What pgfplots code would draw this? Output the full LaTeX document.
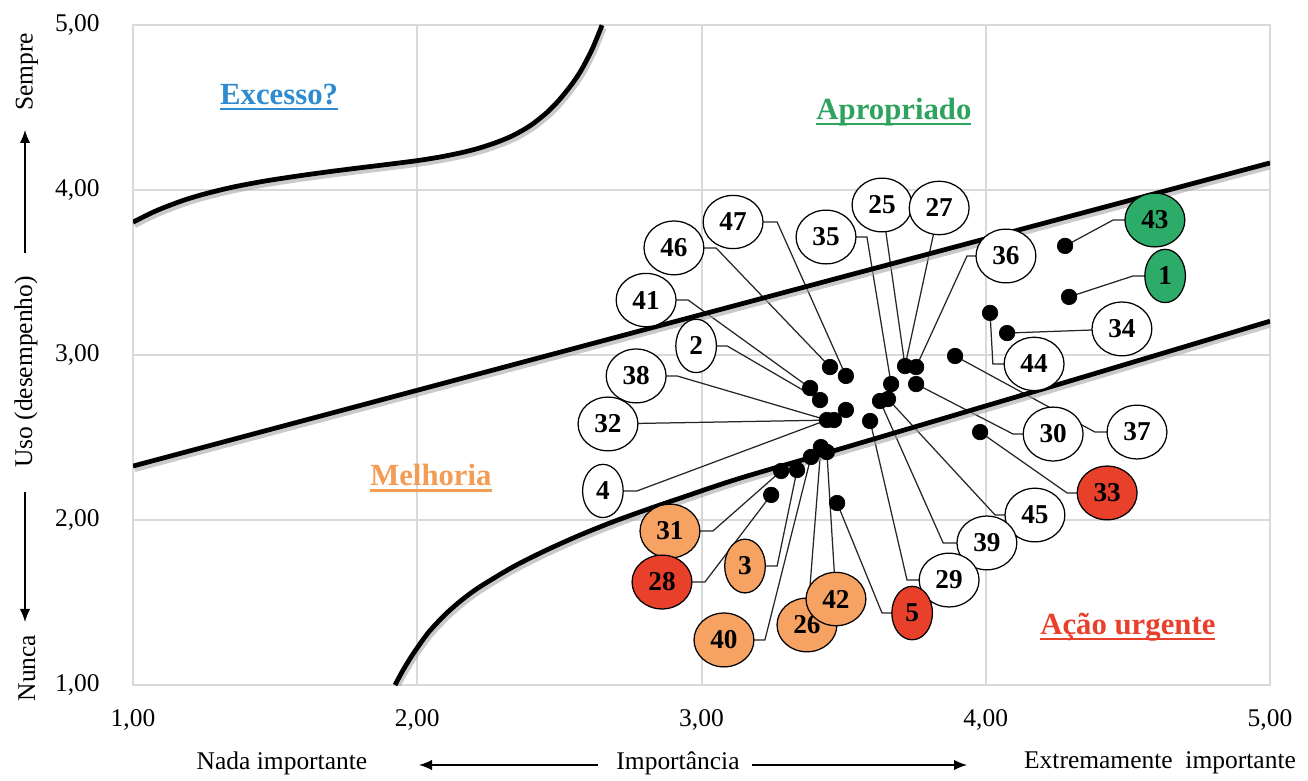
\documentclass[border=0pt]{standalone}
\usepackage{fontspec}
\setmainfont{Liberation Serif}
\usepackage{pgfplots}
\usepackage{pgfplotstable}
\pgfplotsset{compat=1.18}
\usetikzlibrary{shapes.geometric, arrows.meta}
\definecolor{gridgray}{HTML}{D9D9D9}
\definecolor{cblue}{HTML}{2E8BCF}
\definecolor{cgreen}{HTML}{2CAB69}
\definecolor{corange}{HTML}{F5A263}
\definecolor{cred}{HTML}{E8402B}
\definecolor{tgreen}{HTML}{2EA35F}
\definecolor{torange}{HTML}{F39C55}
\newsavebox{\ulbox}
\newcommand{\ul}[1]{\sbox{\ulbox}{#1}\rlap{\rule[-3.4pt]{\wd\ulbox}{1.4pt}}\usebox{\ulbox}}
\newcommand{\fnt}{\fontsize{14.5pt}{17pt}\selectfont}
\newcommand{\qfnt}{\bfseries\fontsize{17.5pt}{20pt}\selectfont}

\pgfplotstableread{
x y label
4.173 2.030 45
4.004 1.861 39
3.871 1.636 29
3.111 3.806 47
2.903 3.649 46
2.805 3.333 41
2.981 3.055 2
2.770 2.873 38
2.671 2.582 32
2.653 2.176 4
3.438 3.715 35
3.635 3.909 25
3.836 3.891 27
4.071 3.600 36
4.479 3.158 34
4.170 2.946 44
4.237 2.521 30
4.532 2.533 37
}\whitelabels

\pgfplotstableread{
x y label
2.889 1.933 31
3.153 1.721 3
3.079 1.273 40
3.371 1.364 26
3.473 1.521 42
}\orangelabels

\pgfplotstableread{
x y label
2.861 1.624 28
4.427 2.164 33
3.741 1.436 5
}\redlabels

\pgfplotstableread{
x y label
4.595 3.818 43
4.631 3.479 1
}\greenlabels

\pgfplotstableread{
x y
3.452 2.927
3.508 2.873
3.382 2.800
3.417 2.727
3.508 2.667
3.441 2.606
3.466 2.606
3.593 2.600
3.667 2.824
3.628 2.721
3.656 2.733
3.716 2.933
3.755 2.927
3.755 2.824
3.420 2.442
3.441 2.412
3.385 2.382
3.280 2.297
3.336 2.303
3.245 2.152
3.477 2.103
3.892 2.994
4.015 3.255
4.075 3.133
4.279 3.661
4.293 3.352
3.980 2.533
}\dotdata

\pgfplotstableread{
x y
1.000 3.805
1.080 3.873
1.170 3.933
1.250 3.975
1.350 4.017
1.460 4.053
1.580 4.085
1.690 4.111
1.800 4.135
1.900 4.156
2.000 4.178
2.080 4.200
2.160 4.228
2.220 4.255
2.281 4.290
2.340 4.333
2.400 4.393
2.455 4.468
2.500 4.547
2.548 4.651
2.580 4.736
2.617 4.860
2.650 4.999
}\uppercurve

\pgfplotstableread{
x y
1.922 1.000
1.950 1.090
1.986 1.190
2.040 1.320
2.103 1.435
2.160 1.520
2.221 1.596
2.338 1.717
2.455 1.818
2.573 1.909
2.690 1.990
2.807 2.063
2.924 2.132
3.135 2.253
3.500 2.437
4.250 2.819
5.000 3.205
}\lowercurve

\pgfplotsset{
  leader/.style={black!85, line width=0.25mm, mark=none},
  bub/.style={draw=none, mark=none, nodes near coords, point meta=explicit symbolic,
    every node near coord/.append style={ellipse, draw=black, line width=0.25mm, fill=#1,
      inner xsep=1.51mm, inner ysep=1.97mm, anchor=center,
      font=\bfseries\fontsize{15.5pt}{18pt}\selectfont, text=black}},
  thick curve/.style={smooth, black, line width=0.95mm, mark=none},
  shadow curve/.style={smooth, black!35, opacity=0.6, line width=1.2mm, mark=none, xshift=0.3mm, yshift=-0.6mm},
}

\begin{document}
\begin{tikzpicture}
\begin{axis}[
  scale only axis, width=227.4mm, height=132mm,
  xmin=1, xmax=5, ymin=1, ymax=5,
  xtick={1,2,3,4,5}, ytick={1,2,3,4,5},
  grid=major, grid style={color=gridgray, line width=0.4mm},
  axis line style={draw=gridgray, line width=0.4mm},
  major tick length=0pt,
  tick label style={font=\fnt, text=black},
  /pgf/number format/.cd, fixed, fixed zerofill, precision=2, use comma, assume math mode=true,
  /pgfplots/.cd,
  yticklabel style={anchor=east, inner sep=0pt, xshift=-6.6mm},
  xticklabel style={anchor=north, inner sep=0pt, yshift=-4.9mm},
]
% leader lines
\addplot[leader] coordinates {(3.111,3.806) (3.266,3.806) (3.508,2.873)};
\addplot[leader] coordinates {(2.903,3.649) (3.051,3.649) (3.452,2.927)};
\addplot[leader] coordinates {(2.805,3.333) (2.953,3.333) (3.382,2.800)};
\addplot[leader] coordinates {(2.981,3.055) (3.090,3.055) (3.417,2.727)};
\addplot[leader] coordinates {(2.770,2.873) (2.914,2.873) (3.441,2.606)};
\addplot[leader] coordinates {(2.671,2.582) (3.466,2.606)};
\addplot[leader] coordinates {(2.653,2.176) (2.773,2.176) (3.441,2.606)};
\addplot[leader] coordinates {(3.438,3.715) (3.582,3.715) (3.667,2.824)};
\addplot[leader] coordinates {(3.635,3.909) (3.716,2.933)};
\addplot[leader] coordinates {(3.836,3.891) (3.716,2.933)};
\addplot[leader] coordinates {(4.071,3.600) (3.934,3.600) (3.755,2.927)};
\addplot[leader] coordinates {(4.595,3.818) (4.448,3.818) (4.279,3.661)};
\addplot[leader] coordinates {(4.631,3.479) (4.518,3.479) (4.293,3.352)};
\addplot[leader] coordinates {(4.479,3.158) (4.075,3.133)};
\addplot[leader] coordinates {(4.170,2.946) (4.025,2.946) (4.015,3.255)};
\addplot[leader] coordinates {(4.237,2.521) (4.096,2.521) (3.755,2.824)};
\addplot[leader] coordinates {(4.532,2.533) (4.384,2.533) (3.892,2.994)};
\addplot[leader] coordinates {(4.427,2.164) (4.286,2.164) (3.980,2.533)};
\addplot[leader] coordinates {(4.173,2.030) (4.033,2.030) (3.656,2.733)};
\addplot[leader] coordinates {(4.004,1.861) (3.850,1.861) (3.628,2.721)};
\addplot[leader] coordinates {(3.871,1.636) (3.723,1.636) (3.593,2.600)};
\addplot[leader] coordinates {(3.741,1.436) (3.635,1.436) (3.477,2.103)};
\addplot[leader] coordinates {(3.473,1.521) (3.441,2.412)};
\addplot[leader] coordinates {(3.371,1.364) (3.420,2.442)};
\addplot[leader] coordinates {(3.079,1.273) (3.223,1.273) (3.385,2.382)};
\addplot[leader] coordinates {(3.153,1.721) (3.266,1.721) (3.336,2.303)};
\addplot[leader] coordinates {(2.861,1.624) (3.012,1.624) (3.245,2.152)};
\addplot[leader] coordinates {(2.889,1.933) (3.040,1.933) (3.280,2.297)};
% dots
\addplot[only marks, mark=*, mark size=1.55mm, black] table[x=x, y=y] {\dotdata};
% bubbles
\addplot[bub=white] table[x=x, y=y, meta=label] {\whitelabels};
\addplot[bub=corange] table[x=x, y=y, meta=label] {\orangelabels};
\addplot[bub=cred] table[x=x, y=y, meta=label] {\redlabels};
\addplot[bub=cgreen] table[x=x, y=y, meta=label] {\greenlabels};
% boundary curves (soft shadow, then line)
\addplot[shadow curve] table[x=x, y=y] {\uppercurve};
\addplot[shadow curve, smooth=false, sharp plot] coordinates {(1.0,2.327) (5.0,4.164)};
\addplot[shadow curve] table[x=x, y=y] {\lowercurve};
\addplot[thick curve] table[x=x, y=y] {\uppercurve};
\addplot[black, line width=0.95mm, mark=none] coordinates {(1.0,2.327) (5.0,4.164)};
\addplot[thick curve] table[x=x, y=y] {\lowercurve};
% quadrant titles
\node[font=\qfnt, text=cblue] at (axis cs:1.514,4.564) {\ul{Excesso?}};
\node[font=\qfnt, text=tgreen] at (axis cs:3.677,4.473) {\ul{Apropriado}};
\node[font=\qfnt, text=torange] at (axis cs:2.048,2.255) {\ul{Melhoria}};
\node[font=\qfnt, text=cred] at (axis cs:4.500,1.352) {\ul{Ação urgente}};
\end{axis}
\begin{scope}[shift={(-26.6mm,137mm)}, x=0.2mm, y=-0.2mm]
\path (0,0) rectangle (1308,776);
\node[rotate=90, font=\fnt] at (27,72) {Sempre};
\draw[-{Latex[length=2.6mm,width=2.1mm]}, line width=0.3mm] (25,253) -- (25,130);
\node[rotate=90, font=\fnt] at (26,372) {Uso (desempenho)};
\draw[-{Latex[length=2.6mm,width=2.1mm]}, line width=0.3mm] (25,492) -- (25,622);
\node[rotate=90, font=\fnt] at (27,668) {Nunca};
\node[font=\fnt] at (282,763) {Nada importante};
\draw[-{Latex[length=2.6mm,width=2.1mm]}, line width=0.3mm] (598,765) -- (419,765);
\node[font=\fnt] at (678,763) {Importância};
\draw[-{Latex[length=2.6mm,width=2.1mm]}, line width=0.3mm] (752,765) -- (967,765);
\node[font=\fnt] at (1160,763) {Extremamente\ \ importante};
\end{scope}
\end{tikzpicture}
\end{document}
